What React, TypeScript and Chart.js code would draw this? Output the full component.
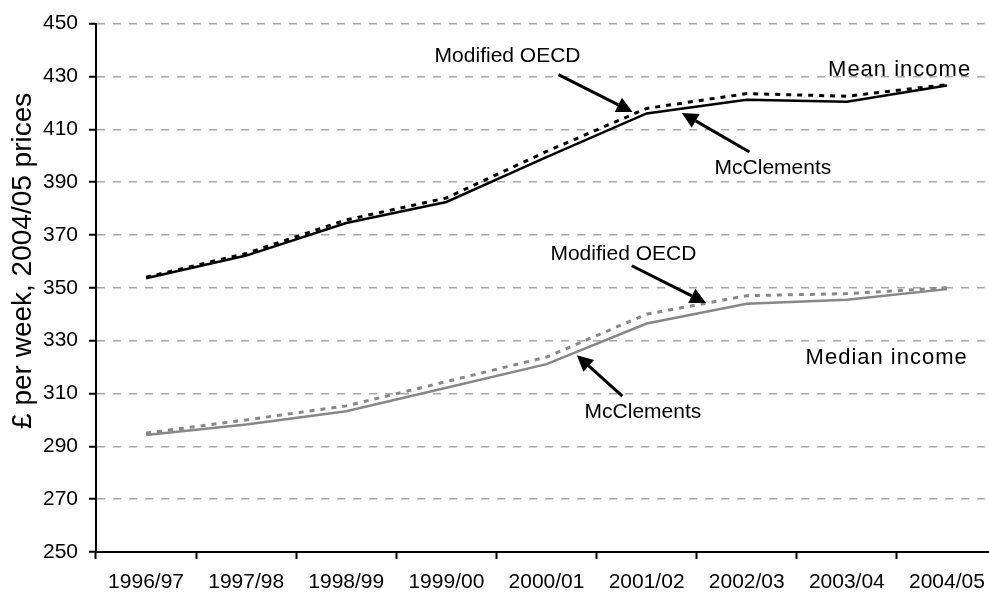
import React, { useEffect, useRef } from "react";
import { Chart, registerables } from "chart.js";

Chart.register(...registerables);

const years = ["1996/97", "1997/98", "1998/99", "1999/00", "2000/01", "2001/02", "2002/03", "2003/04", "2004/05"];
const meanMcClements = [353.6, 362.2, 374.5, 382.5, 399.5, 416.0, 421.2, 420.4, 426.6];
const meanModifiedOECD = [354.0, 363.0, 375.7, 384.0, 401.6, 417.9, 423.5, 422.5, 426.9];
const medianMcClements = [294.3, 298.3, 303.3, 312.2, 321.1, 336.5, 344.0, 345.5, 349.5];
const medianModifiedOECD = [295.0, 300.0, 305.3, 314.5, 323.8, 340.0, 347.0, 347.8, 350.0];
const yTicks = [250, 270, 290, 310, 330, 350, 370, 390, 410, 430, 450];
const yTitle = "£ per week, 2004/05 prices";

// annotation labels: [text, x (category index), y (value at baseline), font size]
const labels: [string, number, number, number][] = [
  ["Modified OECD", 3.611, 435.6, 21],
  ["Mean income", 7.527, 430.1, 22],
  ["McClements", 6.262, 392.9, 21],
  ["Modified OECD", 4.768, 360.45, 21],
  ["Median income", 7.398, 321.1, 22],
  ["McClements", 4.963, 300.9, 21],
];
// arrows: [tailX, tailY, tipX, tipY] in category index / value
const arrows: [number, number, number, number][] = [
  [4.119, 430.7, 4.86, 416.5],
  [6.027, 401.4, 5.352, 416.2],
  [4.852, 358.35, 5.594, 344.2],
  [4.758, 309.0, 4.303, 324.5],
];

const FONT = "'Liberation Sans', Arial, Helvetica, sans-serif";

const annotationPlugin = {
  id: "annotations",
  afterDraw(chart: any) {
    const ctx = chart.ctx as CanvasRenderingContext2D;
    const xs = chart.scales.x;
    const ys = chart.scales.y;
    const px = (i: number) => {
      const a = xs.getPixelForValue(0);
      const b = xs.getPixelForValue(1);
      return a + (b - a) * i;
    };
    ctx.save();
    ctx.fillStyle = "#000";
    ctx.textAlign = "center";
    ctx.textBaseline = "alphabetic";
    for (const [t, x, y, size] of labels) {
      ctx.font = `${size}px ${FONT}`;
      (ctx as any).letterSpacing = size > 21 ? "1px" : "0px";
      ctx.fillText(t, px(x), ys.getPixelForValue(y));
    }
    (ctx as any).letterSpacing = "0px";
    ctx.strokeStyle = "#000";
    ctx.lineWidth = 3;
    for (const [tx, ty, hx, hy] of arrows) {
      const x1 = px(tx), y1 = ys.getPixelForValue(ty);
      const x2 = px(hx), y2 = ys.getPixelForValue(hy);
      const ang = Math.atan2(y2 - y1, x2 - x1);
      const len = 16, hw = 8;
      const bx = x2 - Math.cos(ang) * len, by = y2 - Math.sin(ang) * len;
      ctx.beginPath();
      ctx.moveTo(x1, y1);
      ctx.lineTo(bx, by);
      ctx.stroke();
      ctx.beginPath();
      ctx.moveTo(x2, y2);
      ctx.lineTo(bx + Math.sin(ang) * hw, by - Math.cos(ang) * hw);
      ctx.lineTo(bx - Math.sin(ang) * hw, by + Math.cos(ang) * hw);
      ctx.closePath();
      ctx.fill();
    }
    // y axis title
    ctx.font = `28px ${FONT}`;
    ctx.translate(31, (chart.chartArea.top + chart.chartArea.bottom) / 2 - 27);
    ctx.rotate(-Math.PI / 2);
    ctx.textAlign = "center";
    ctx.textBaseline = "alphabetic";
    ctx.fillText(yTitle, 0, 0);
    ctx.restore();
  },
};

export default function App() {
  const ref = useRef<HTMLCanvasElement | null>(null);
  useEffect(() => {
    if (!ref.current) return;
    const chart = new Chart(ref.current, {
      type: "line",
      data: {
        labels: years,
        datasets: [
          { label: "Mean McClements", data: meanMcClements, borderColor: "#000", borderWidth: 2.5, pointRadius: 0, tension: 0 },
          { label: "Mean Modified OECD", data: meanModifiedOECD, borderColor: "#000", borderWidth: 3, borderDash: [5, 6], pointRadius: 0, tension: 0 },
          { label: "Median McClements", data: medianMcClements, borderColor: "#878787", borderWidth: 2.5, pointRadius: 0, tension: 0 },
          { label: "Median Modified OECD", data: medianModifiedOECD, borderColor: "#878787", borderWidth: 3, borderDash: [5, 6], pointRadius: 0, tension: 0 },
        ],
      },
      options: {
        responsive: false,
        animation: false,
        layout: { padding: { top: 17, right: 3, left: 0, bottom: 0 } },
        plugins: { legend: { display: false }, tooltip: { enabled: false }, title: { display: false } },
        scales: {
          x: {
            type: "category",
            offset: true,
            grid: { offset: true, drawOnChartArea: false, drawTicks: true, tickLength: 7, tickWidth: 2, tickColor: "#000", color: "#000" },
            border: { display: true, color: "#000", width: 2 },
            ticks: { color: "#000", font: { family: FONT, size: 21 }, padding: 11, maxRotation: 0, autoSkip: false },
            afterFit: (s: any) => { s.height = 42; },
          },
          y: {
            min: 250,
            max: 450,
            afterBuildTicks: (s: any) => { s.ticks = yTicks.map((v) => ({ value: v })); },
            grid: {
              color: (c: any) => (c.tick && c.tick.value === 250 ? "rgba(0,0,0,0)" : "#a8a8a8"),
              lineWidth: 1.5,
              drawTicks: true,
              tickLength: 7,
              tickWidth: 2,
              tickColor: "#000",
              tickBorderDash: [],
            },
            border: { display: true, color: "#000", width: 2, dash: [8, 8] },
            ticks: { color: "#000", font: { family: FONT, size: 21 }, padding: 11 },
            afterFit: (s: any) => { s.width = 96; },
          },
        },
      },
      plugins: [annotationPlugin],
    });
    return () => chart.destroy();
  }, []);
  return (
    <div style={{ position: "fixed", left: 0, top: 0, width: 989, height: 594, overflow: "hidden", background: "#fff" }}>
      <canvas ref={ref} width={1000} height={594} style={{ display: "block", width: 1000, height: 594 }} />
    </div>
  );
}
